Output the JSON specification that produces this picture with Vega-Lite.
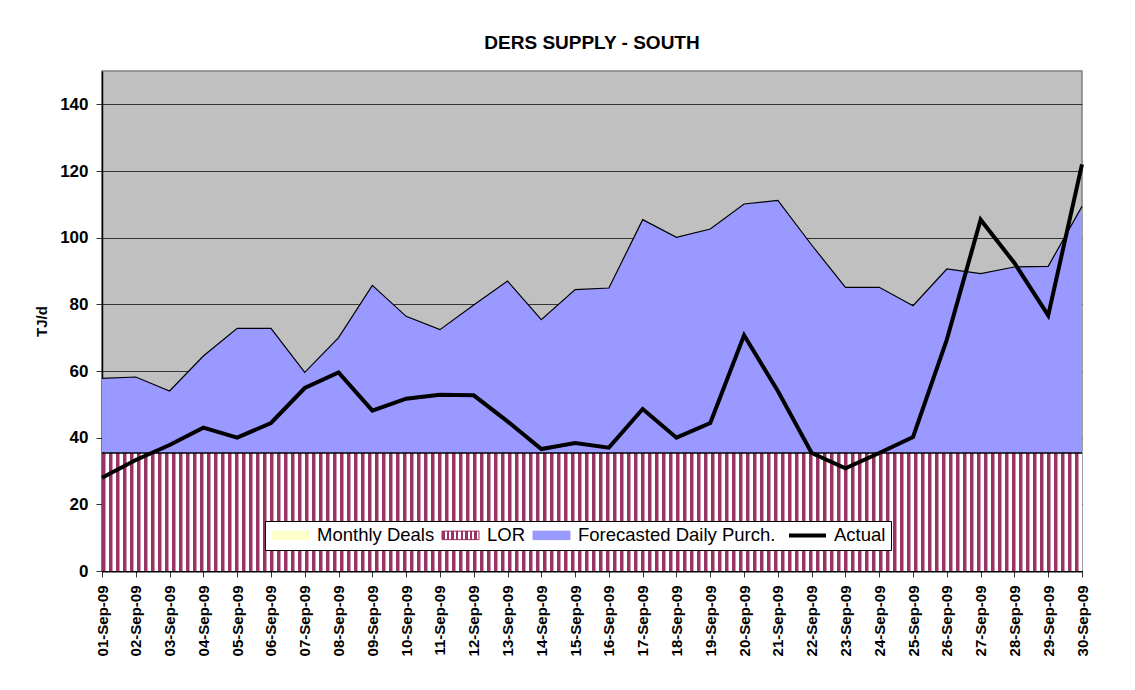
{
  "$schema": "https://vega.github.io/schema/vega-lite/v6.json",
  "width": 980,
  "height": 500,
  "autosize": {"type": "none"},
  "padding": {"left": 102, "top": 71, "right": 53, "bottom": 119},
  "background": "white",
  "title": {
    "text": "DERS SUPPLY - SOUTH",
    "font": "Liberation Sans",
    "fontSize": 19,
    "fontWeight": "bold",
    "color": "black",
    "anchor": "middle",
    "offset": 18
  },
  "config": {
    "font": "Liberation Sans",
    "view": {"fill": "#C0C0C0", "stroke": "#808080", "strokeWidth": 1.5}
  },
  "data": {
    "values": [
      {"date": "01-Sep-09", "forecast": 57.8, "actual": 28.0, "lor": 35.4, "monthly": 0},
      {"date": "02-Sep-09", "forecast": 58.2, "actual": 33.3, "lor": 35.4, "monthly": 0},
      {"date": "03-Sep-09", "forecast": 54.0, "actual": 37.8, "lor": 35.4, "monthly": 0},
      {"date": "04-Sep-09", "forecast": 64.5, "actual": 43.0, "lor": 35.4, "monthly": 0},
      {"date": "05-Sep-09", "forecast": 72.8, "actual": 40.0, "lor": 35.4, "monthly": 0},
      {"date": "06-Sep-09", "forecast": 72.8, "actual": 44.4, "lor": 35.4, "monthly": 0},
      {"date": "07-Sep-09", "forecast": 59.6, "actual": 54.9, "lor": 35.4, "monthly": 0},
      {"date": "08-Sep-09", "forecast": 70.0, "actual": 59.6, "lor": 35.4, "monthly": 0},
      {"date": "09-Sep-09", "forecast": 85.7, "actual": 48.1, "lor": 35.4, "monthly": 0},
      {"date": "10-Sep-09", "forecast": 76.4, "actual": 51.7, "lor": 35.4, "monthly": 0},
      {"date": "11-Sep-09", "forecast": 72.4, "actual": 52.9, "lor": 35.4, "monthly": 0},
      {"date": "12-Sep-09", "forecast": 79.8, "actual": 52.7, "lor": 35.4, "monthly": 0},
      {"date": "13-Sep-09", "forecast": 87.0, "actual": 44.9, "lor": 35.4, "monthly": 0},
      {"date": "14-Sep-09", "forecast": 75.4, "actual": 36.6, "lor": 35.4, "monthly": 0},
      {"date": "15-Sep-09", "forecast": 84.4, "actual": 38.4, "lor": 35.4, "monthly": 0},
      {"date": "16-Sep-09", "forecast": 84.9, "actual": 37.0, "lor": 35.4, "monthly": 0},
      {"date": "17-Sep-09", "forecast": 105.4, "actual": 48.6, "lor": 35.4, "monthly": 0},
      {"date": "18-Sep-09", "forecast": 100.1, "actual": 40.0, "lor": 35.4, "monthly": 0},
      {"date": "19-Sep-09", "forecast": 102.6, "actual": 44.4, "lor": 35.4, "monthly": 0},
      {"date": "20-Sep-09", "forecast": 110.1, "actual": 70.7, "lor": 35.4, "monthly": 0},
      {"date": "21-Sep-09", "forecast": 111.2, "actual": 54.0, "lor": 35.4, "monthly": 0},
      {"date": "22-Sep-09", "forecast": 97.8, "actual": 35.4, "lor": 35.4, "monthly": 0},
      {"date": "23-Sep-09", "forecast": 85.1, "actual": 30.8, "lor": 35.4, "monthly": 0},
      {"date": "24-Sep-09", "forecast": 85.1, "actual": 35.4, "lor": 35.4, "monthly": 0},
      {"date": "25-Sep-09", "forecast": 79.6, "actual": 40.2, "lor": 35.4, "monthly": 0},
      {"date": "26-Sep-09", "forecast": 90.6, "actual": 69.4, "lor": 35.4, "monthly": 0},
      {"date": "27-Sep-09", "forecast": 89.2, "actual": 105.4, "lor": 35.4, "monthly": 0},
      {"date": "28-Sep-09", "forecast": 91.2, "actual": 92.4, "lor": 35.4, "monthly": 0},
      {"date": "29-Sep-09", "forecast": 91.4, "actual": 76.7, "lor": 35.4, "monthly": 0},
      {"date": "30-Sep-09", "forecast": 109.4, "actual": 122.0, "lor": 35.4, "monthly": 0}
    ]
  },
  "encoding": {
    "x": {
      "field": "date",
      "type": "ordinal",
      "sort": null,
      "scale": {"type": "point", "padding": 0},
      "axis": {
        "title": null,
        "labelAngle": 270,
        "labelFont": "Liberation Sans",
        "labelFontSize": 15,
        "labelFontWeight": "bold",
        "labelColor": "black",
        "labelPadding": 8,
        "tickSize": 6,
        "tickColor": "#333333",
        "domainColor": "black",
        "domainWidth": 2,
        "grid": false
      }
    }
  },
  "layer": [
    {
      "mark": {"type": "area", "fill": "#9999FF"},
      "encoding": {
        "y": {
          "field": "forecast",
          "type": "quantitative",
          "scale": {"domain": [0, 150], "nice": false},
          "axis": {
            "title": "TJ/d",
            "titleFont": "Liberation Sans",
            "titleFontSize": 15,
            "titleFontWeight": "bold",
            "titleColor": "black",
            "titlePadding": 10,
            "values": [0, 20, 40, 60, 80, 100, 120, 140],
            "labelFont": "Liberation Sans",
            "labelFontSize": 17,
            "labelFontWeight": "bold",
            "labelColor": "black",
            "labelPadding": 8,
            "tickSize": 6,
            "tickColor": "#333333",
            "domainColor": "black",
            "domainWidth": 1.5,
            "grid": true,
            "gridColor": "#333333",
            "gridWidth": 1
          }
        }
      }
    },
    {
      "mark": {"type": "line", "color": "black", "strokeWidth": 1.2},
      "encoding": {"y": {"field": "forecast", "type": "quantitative"}}
    },
    {
      "mark": {"type": "area", "fill": "white"},
      "encoding": {"y": {"field": "lor", "type": "quantitative"}}
    },
    {
      "data": {"values": [{}]},
      "mark": {"type": "rule", "stroke": "#993366", "strokeWidth": 118, "strokeDash": [3.5, 3.5], "strokeCap": "butt"},
      "encoding": {
        "x": {"datum": "01-Sep-09"},
        "x2": {"datum": "30-Sep-09"},
        "y": {"datum": 17.7, "type": "quantitative"}
      }
    },
    {
      "mark": {"type": "line", "color": "black", "strokeWidth": 1.5},
      "encoding": {"y": {"field": "lor", "type": "quantitative"}}
    },
    {
      "mark": {"type": "line", "strokeWidth": 4},
      "encoding": {
        "y": {"field": "actual", "type": "quantitative"},
        "color": {
          "datum": "Actual",
          "scale": {
            "domain": ["Monthly Deals", "LOR", "Forecasted Daily Purch.", "Actual"],
            "range": ["#FFFFCC", "#993366", "#9999FF", "black"]
          },
          "legend": {
            "title": null,
            "orient": "none",
            "direction": "horizontal",
            "legendX": 163,
            "legendY": 450,
            "fillColor": "white",
            "strokeColor": "black",
            "padding": 5,
            "labelFont": "Liberation Sans",
            "labelFontSize": 18.5,
            "labelColor": "black",
            "labelOffset": 17.25,
            "labelLimit": 400,
            "symbolSize": 1369,
            "symbolOffset": 11.25,
            "columnPadding": 5,
            "symbolType": "stroke",
            "encode": {
              "symbols": {
                "update": {
                  "shape": {"signal": "datum.value === 'Actual' ? 'stroke' : 'M-1,-0.23H1V0.23H-1Z'"},
                  "fill": {"signal": "datum.value === 'Actual' ? 'transparent' : datum.value === 'LOR' ? {gradient: 'linear', x1: 0, y1: 0, x2: 1, y2: 0, stops: [{offset: 0, color: '#993366'}, {offset: 0.07, color: '#993366'}, {offset: 0.07, color: '#ffffff'}, {offset: 0.125, color: '#ffffff'}, {offset: 0.125, color: '#993366'}, {offset: 0.195, color: '#993366'}, {offset: 0.195, color: '#ffffff'}, {offset: 0.25, color: '#ffffff'}, {offset: 0.25, color: '#993366'}, {offset: 0.32, color: '#993366'}, {offset: 0.32, color: '#ffffff'}, {offset: 0.375, color: '#ffffff'}, {offset: 0.375, color: '#993366'}, {offset: 0.445, color: '#993366'}, {offset: 0.445, color: '#ffffff'}, {offset: 0.5, color: '#ffffff'}, {offset: 0.5, color: '#993366'}, {offset: 0.57, color: '#993366'}, {offset: 0.57, color: '#ffffff'}, {offset: 0.625, color: '#ffffff'}, {offset: 0.625, color: '#993366'}, {offset: 0.695, color: '#993366'}, {offset: 0.695, color: '#ffffff'}, {offset: 0.75, color: '#ffffff'}, {offset: 0.75, color: '#993366'}, {offset: 0.82, color: '#993366'}, {offset: 0.82, color: '#ffffff'}, {offset: 0.875, color: '#ffffff'}, {offset: 0.875, color: '#993366'}, {offset: 0.945, color: '#993366'}, {offset: 0.945, color: '#ffffff'}, {offset: 1, color: '#ffffff'}]} : datum.value === 'Monthly Deals' ? '#FFFFCC' : '#9999FF'"},
                  "stroke": {"value": "black"},
                  "strokeWidth": {"signal": "datum.value === 'Actual' ? 4 : 1"},
                  "opacity": {"value": 1}
                }
              }
            }
          }
        }
      }
    }
  ]
}
